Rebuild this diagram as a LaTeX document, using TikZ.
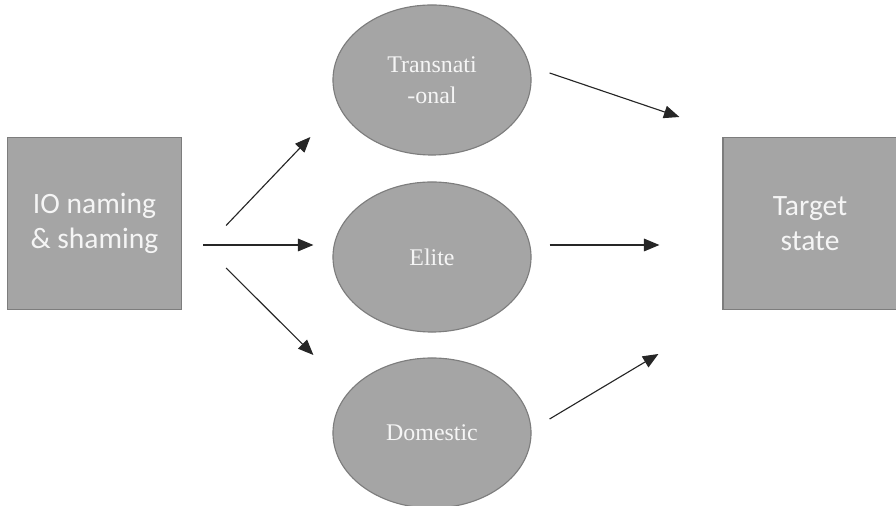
\documentclass[tikz,border=0pt]{standalone}
\usepackage{fontspec}
\usetikzlibrary{positioning,calc,shapes.geometric,arrows.meta}
\newfontfamily\boxfont{Carlito}
\newfontfamily\ellfont{Liberation Serif}
\definecolor{shade}{RGB}{165,165,165}
\definecolor{rim}{RGB}{125,125,125}
\definecolor{paper}{RGB}{245,245,245}

\begin{document}
\begin{tikzpicture}[
  x=0.025cm, y=0.025cm,
  actor/.style={draw=rim, thick, fill=shade, text=paper, align=center,
    minimum width=4.35cm, minimum height=4.3cm,
    font=\boxfont\fontsize{21}{25}\selectfont},
  channel/.style={ellipse, draw=rim, thick, fill=shade, text=paper, align=center,
    minimum width=4.95cm, minimum height=3.75cm, inner sep=0pt,
    font=\ellfont\fontsize{17}{22}\selectfont},
  every path/.style={thick},
  link/.style={draw=black!85, -{Triangle[length=11pt,width=9pt]}}
]
  \useasboundingbox (0,0) rectangle (896,506);

  % sender and receiver
  \node[actor] (io) at (94.5,282.5) {IO naming\\\& shaming};
  \node[actor] (target) at (810,282.5) {Target\\state};

  % the three pathways
  \node[channel] (trans) at (432,426) {Transnati\\-onal};
  \node[channel] (elite) at (432,249) {Elite};
  \node[channel] (dom) at (432,73) {Domestic};

  % arrows in
  \draw[link] ([shift={(44,-2)}]io.east) -- ([shift={(-22,-57)}]trans.west);
  \draw[link] ([shift={(21,-21.5)}]io.east) -- ([shift={(-19,12)}]elite.west);
  \draw[link] ([shift={(44,-44.5)}]io.east) -- ([shift={(-19,78)}]dom.west);

  % arrows out
  \draw[link] ([shift={(18,7)}]trans.east) -- ([shift={(-43,106.5)}]target.west);
  \draw[link] ([shift={(18,12)}]elite.east) -- ([shift={(-63,-21.5)}]target.west);
  \draw[link] ([shift={(18,14)}]dom.east) -- ([shift={(-64,-130.5)}]target.west);
\end{tikzpicture}
\end{document}
